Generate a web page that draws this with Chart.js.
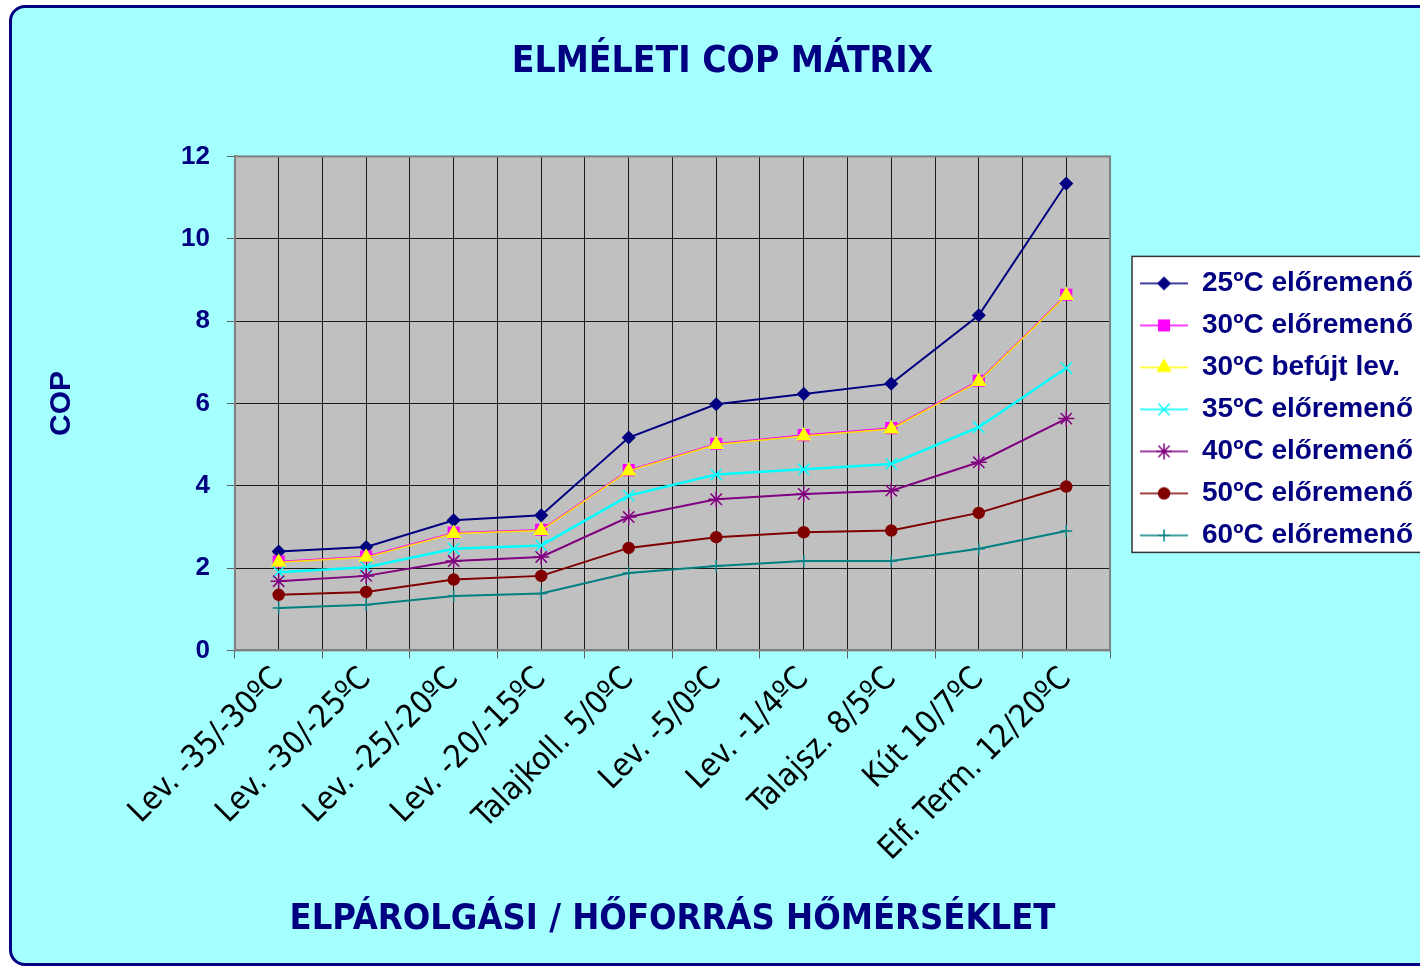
<!DOCTYPE html>
<html>
<head>
<meta charset="utf-8">
<script src="https://cdn.jsdelivr.net/npm/chart.js@4.4.1/dist/chart.umd.min.js"></script>
<style>
  html, body { margin: 0; padding: 0; background: #ffffff; overflow: hidden; width: 1420px; height: 968px; }
  #frame {
    position: absolute; left: 9px; top: 5px;
    width: 1430px; height: 955px;
    border: 3px solid #000080; border-radius: 16px;
    background: #a4ffff; overflow: hidden;
  }
  canvas { display: block; }
</style>
</head>
<body>
<div id="frame"><canvas id="cop" width="1430" height="955"></canvas></div>
<script>
// categories (heat source / evaporation temperature)
const categories = [
  'Lev. -35/-30ºC', 'Lev. -30/-25ºC', 'Lev. -25/-20ºC', 'Lev. -20/-15ºC', 'Talajkoll. 5/0ºC',
  'Lev. -5/0ºC', 'Lev. -1/4ºC', 'Talajsz. 8/5ºC', 'Kút 10/7ºC', 'Elf. Term. 12/20ºC'
];

const seriesNames = [
  '25ºC előremenő', '30ºC előremenő', '30ºC befújt lev.', '35ºC előremenő',
  '40ºC előremenő', '50ºC előremenő', '60ºC előremenő'
];

// COP values
const cop25 = [2.40, 2.51, 3.16, 3.28, 5.17, 5.98, 6.23, 6.48, 8.14, 11.34];
const cop30 = [2.16, 2.28, 2.86, 2.93, 4.38, 5.02, 5.23, 5.40, 6.55, 8.64];
const cop30air = [2.14, 2.26, 2.84, 2.91, 4.36, 5.00, 5.21, 5.38, 6.53, 8.62];
const cop35 = [1.90, 2.02, 2.47, 2.55, 3.76, 4.27, 4.40, 4.53, 5.42, 6.86];
const cop40 = [1.68, 1.81, 2.17, 2.27, 3.24, 3.67, 3.80, 3.88, 4.57, 5.63];
const cop50 = [1.35, 1.42, 1.72, 1.81, 2.49, 2.75, 2.87, 2.91, 3.34, 3.98];
const cop60 = [1.03, 1.11, 1.32, 1.38, 1.88, 2.05, 2.17, 2.17, 2.47, 2.90];

const yTicks = [0, 2, 4, 6, 8, 10, 12];

const chartTitle = 'ELMÉLETI COP MÁTRIX';
const xTitle = 'ELPÁROLGÁSI / HŐFORRÁS HŐMÉRSÉKLET';
const yTitle = 'COP';

const NARROW = "'Liberation Sans Narrow', 'Arial Narrow', 'DejaVu Sans Condensed', sans-serif";
const SANS = "'Liberation Sans', Arial, Helvetica, sans-serif";
const NAVY = '#000080';
const GRID = '#1a1a1a';

// series look: colour, marker, marker radius, line width
const styles = [
  {color: '#000080', line: '#000080', marker: 'rectRot', r: 6, w: 2},
  {color: '#ff00ff', line: '#ff00ff', marker: 'rect', r: 7.5, w: 1.5},
  {color: '#ffff00', line: '#ffdd00', marker: 'triangle', r: 7.5, w: 1.5},
  {color: '#00ffff', line: '#00ffff', marker: 'crossRot', r: 8, w: 2.5},
  {color: '#800080', line: '#800080', marker: 'star', r: 8, w: 2},
  {color: '#800000', line: '#800000', marker: 'circle', r: 5.5, w: 2},
  {color: '#008080', line: '#008080', marker: 'cross', r: 6, w: 2}
];
const seriesData = [cop25, cop30, cop30air, cop35, cop40, cop50, cop60];

// legend sample: short line with the marker in the middle
function legendIcon(st) {
  const c = document.createElement('canvas');
  c.width = 64; c.height = 22;
  const g = c.getContext('2d');
  g.strokeStyle = st.color;
  g.lineWidth = 1.5;
  g.beginPath(); g.moveTo(16, 11); g.lineTo(64, 11); g.stroke();
  g.fillStyle = st.color;
  g.strokeStyle = st.color;
  g.lineWidth = 1.5;
  Chart.helpers.drawPoint(g, {pointStyle: st.marker, radius: st.r, borderWidth: 1.5}, 40, 11);
  return c;
}
const legendIcons = styles.map(legendIcon);

const plotDecor = {
  id: 'plotDecor',
  beforeDraw(chart) {
    const {ctx, chartArea: a} = chart;
    ctx.save();
    ctx.fillStyle = '#c0c0c0';
    ctx.fillRect(a.left, a.top, a.right - a.left, a.bottom - a.top);
    const boxes = chart.legend.legendHitBoxes;
    if (boxes && boxes.length) {
      const first = boxes[0], last = boxes[boxes.length - 1];
      const x = chart.legend.left + 22;
      const y = first.top - 13;
      const h = last.top + last.height + 3 - y;
      ctx.fillStyle = '#ffffff';
      ctx.fillRect(x, y, chart.width - x, h);
      ctx.strokeStyle = '#333333';
      ctx.lineWidth = 1.5;
      ctx.strokeRect(x, y, chart.width - x + 10, h);
    }
    ctx.restore();
  },
  beforeDatasetsDraw(chart) {
    const {ctx, chartArea: a} = chart;
    ctx.save();
    ctx.strokeStyle = '#808080';
    ctx.lineWidth = 2;
    ctx.strokeRect(a.left, a.top, a.right - a.left, a.bottom - a.top);
    ctx.restore();
  }
};

const datasets = seriesData.map((d, i) => ({
  label: seriesNames[i],
  data: d,
  borderColor: styles[i].line,
  backgroundColor: styles[i].color,
  pointBorderColor: styles[i].color,
  pointBackgroundColor: styles[i].color,
  pointStyle: styles[i].marker,
  pointRadius: styles[i].r,
  pointBorderWidth: 1.5,
  borderWidth: styles[i].w,
  tension: 0,
  fill: false,
  order: 10 - i
}));

new Chart(document.getElementById('cop'), {
  type: 'line',
  data: { labels: categories, datasets: datasets },
  plugins: [plotDecor],
  options: {
    responsive: false,
    animation: false,
    layout: { padding: { left: 10, right: 19, top: 0, bottom: 14 } },
    scales: {
      x: {
        type: 'category',
        offset: true,
        grid: { offset: true, color: GRID, lineWidth: 1, tickColor: '#606060', tickLength: 8 },
        border: { color: '#808080', width: 2 },
        ticks: {
          color: '#000000',
          font: { family: NARROW, size: 32 },
          minRotation: 45, maxRotation: 45,
          autoSkip: false, padding: 2
        },
        title: {
          display: true, text: xTitle, color: NAVY,
          font: { family: NARROW, size: 36, weight: 'bold' },
          padding: { top: 27, bottom: 8 }
        }
      },
      xMid: {
        type: 'category',
        position: 'top',
        labels: categories,
        offset: true,
        grid: { offset: false, color: GRID, lineWidth: 1, drawTicks: false },
        border: { display: false },
        ticks: { display: false }
      },
      y: {
        min: 0, max: 12,
        afterBuildTicks(scale) { scale.ticks = yTicks.map(v => ({value: v})); },
        ticks: {
          color: NAVY,
          font: { family: SANS, size: 26, weight: 'bold' },
          padding: 17
        },
        grid: { color: GRID, lineWidth: 1, tickColor: '#606060', tickLength: 8 },
        border: { color: '#808080', width: 2 },
        title: {
          display: true, text: yTitle, color: NAVY,
          font: { family: SANS, size: 30, weight: 'bold' },
          padding: { top: 22, bottom: 84 }
        }
      }
    },
    plugins: {
      title: {
        display: true, text: chartTitle, color: NAVY,
        font: { family: NARROW, size: 37, weight: 'bold' },
        padding: { top: 32, bottom: 72 }
      },
      legend: {
        position: 'right',
        fullSize: false,
        title: { display: true, text: ' ', font: { size: 10 }, padding: 0 },
        labels: {
          usePointStyle: true,
          pointStyleWidth: 64,
          padding: 14,
          color: NAVY,
          font: { family: SANS, size: 28, weight: 'bold' },
          sort: (a, b) => a.datasetIndex - b.datasetIndex,
          generateLabels(chart) {
            const items = Chart.defaults.plugins.legend.labels.generateLabels(chart);
            items.forEach(it => { it.pointStyle = legendIcons[it.datasetIndex]; });
            return items;
          }
        }
      },
      tooltip: { enabled: false }
    }
  }
});
</script>
</body>
</html>
